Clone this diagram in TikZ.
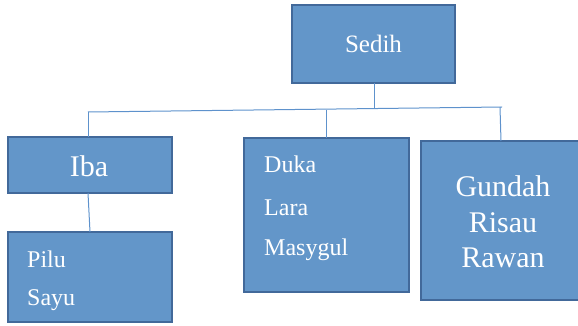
\documentclass[tikz,border=0pt]{standalone}
\usepackage{fontspec}
\setmainfont{Liberation Serif}
\definecolor{boxfill}{HTML}{6396C9}
\definecolor{boxline}{HTML}{42699A}
\definecolor{linkline}{HTML}{5E92CC}
\tikzset{
  card/.style={draw=boxline, line width=1.8pt, fill=boxfill, text=white},
  link/.style={draw=linkline, line width=1pt},
}
\begin{document}
\begin{tikzpicture}[x=1pt, y=-1pt]
  \useasboundingbox (0,0) rectangle (578,326);
  \clip (0,0) rectangle (578,326);
  % boxes
  \path[card] (292,5) rectangle (455,83);
  \node[text=white, font=\fontsize{25}{28}\selectfont] (sedih) at (373.5,44) {Sedih};
  \coordinate (sedihB) at (374,83);

  \path[card] (8,137) rectangle (172,193);
  \node[text=white, font=\fontsize{30}{33}\selectfont] (iba) at (89,166) {Iba};

  \path[card] (8,232) rectangle (172,322);
  \node[text=white, anchor=west, inner xsep=0pt, font=\fontsize{24}{26}\selectfont] (pilu) at (27,259) {Pilu};
  \node[text=white, anchor=west, inner xsep=0pt, font=\fontsize{24}{26}\selectfont] (sayu) at (27,300) {Sayu};

  \path[card] (244,138) rectangle (409,292);
  \node[text=white, anchor=west, inner xsep=0pt, font=\fontsize{24}{26}\selectfont] (duka) at (264,164) {Duka};
  \node[text=white, anchor=west, inner xsep=0pt, font=\fontsize{24}{26}\selectfont] (lara) at (264,208) {Lara};
  \node[text=white, anchor=west, inner xsep=0pt, font=\fontsize{24}{26}\selectfont] (masygul) at (264,250) {Masygul};

  \path[card] (421,141) rectangle (590,300);
  \node[text=white, align=center, font=\fontsize{30}{35.5}\selectfont] (gundah) at (503,222) {Gundah\\Risau\\Rawan};

  % connectors
  \coordinate (busL) at (88,112);
  \coordinate (busM) at (374,109);
  \coordinate (busD) at (326,110);
  \coordinate (busR) at (500,107);
  \coordinate (busE) at (502,107);
  \coordinate (ibaT) at (88,137);
  \coordinate (ibaB) at (88,193);
  \coordinate (piluT) at (90,232);
  \coordinate (dukaT) at (326,138);
  \coordinate (gundahT) at (501,141);
  \draw[link] (busL) -- (busE);
  \draw[link] (sedihB) -- (busM);
  \draw[link] (busL) -- (ibaT);
  \draw[link] (ibaB) -- (piluT);
  \draw[link] (busD) -- (dukaT);
  \draw[link] (busR) -- (gundahT);
\end{tikzpicture}
\end{document}
